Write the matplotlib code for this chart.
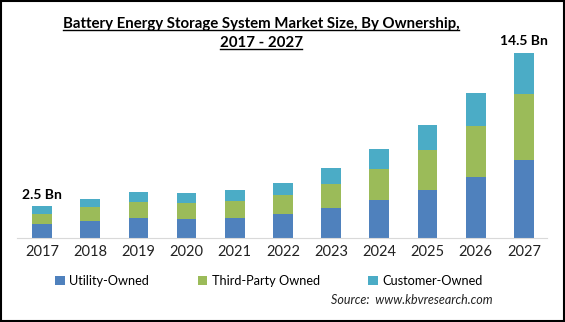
import matplotlib
matplotlib.use("Agg")
import matplotlib.pyplot as plt
from matplotlib.lines import Line2D
from matplotlib.patches import Rectangle
import numpy as np

plt.rcParams['font.family'] = ['Lato', 'DejaVu Sans']

years = ["2017", "2018", "2019", "2020", "2021", "2022",
         "2023", "2024", "2025", "2026", "2027"]
utility_owned = [1.10, 1.36, 1.59, 1.51, 1.59, 1.90, 2.38, 3.00, 3.79, 4.80, 6.12]
third_party_owned = [0.83, 1.10, 1.28, 1.25, 1.33, 1.49, 1.88, 2.40, 3.13, 4.00, 5.16]
customer_owned = [0.57, 0.63, 0.76, 0.78, 0.86, 0.94, 1.28, 1.59, 1.96, 2.61, 3.22]
series_names = ["Utility-Owned", "Third-Party Owned", "Customer-Owned"]
colors = ["#4F81BD", "#9BBB59", "#4BACC6"]

fig = plt.figure(figsize=(5.65, 3.22), dpi=100)
ax = fig.add_axes([17 / 565, 1 - 238.3 / 322, (547 - 17) / 565, (238.3 - 34) / 322])

x = np.arange(len(years))
bottom = np.zeros(len(years))
handles = []
for vals, name, c in zip([utility_owned, third_party_owned, customer_owned], series_names, colors):
    b = ax.bar(x, vals, width=0.41, bottom=bottom, color=c, label=name, zorder=2)
    handles.append(b)
    bottom = bottom + np.array(vals)

ax.set_xlim(-0.52, 10.48)
ax.set_ylim(0, 16)
for s in ["top", "right", "left"]:
    ax.spines[s].set_visible(False)
ax.spines["bottom"].set_color("#d9d9d9")
ax.set_yticks([])
ax.set_xticks(x)
ax.set_xticklabels(years, fontsize=10.5, color="#222222")
ax.tick_params(axis="x", length=0, pad=5)

# total labels on first and last bar
for i in [0, len(years) - 1]:
    ax.text(x[i], bottom[i] + 0.45, f"{bottom[i]:.1f} Bn", ha="center", va="bottom",
            fontsize=10, fontweight="bold", clip_on=False)

# title with underline
title_lines = ["Battery Energy Storage System Market Size, By Ownership,", "2017 - 2027"]
ys = [1 - 24 / 322, 1 - 43 / 322]
fig.canvas.draw()
renderer = fig.canvas.get_renderer()
for line, yy in zip(title_lines, ys):
    t = fig.text(261 / 565, yy, line, ha="center", va="center", fontsize=10.8, fontweight="bold")
    bb = t.get_window_extent(renderer=renderer).transformed(fig.transFigure.inverted())
    fig.add_artist(Line2D([bb.x0, bb.x1], [bb.y0 + 0.002, bb.y0 + 0.002],
                          transform=fig.transFigure, color="black", lw=1))

fig.legend(handles, series_names, loc="center", bbox_to_anchor=(269 / 565, 1 - 281 / 322),
           ncol=3, frameon=False, fontsize=9.2, handlelength=0.75, handleheight=0.75,
           columnspacing=3.8, handletextpad=0.35)

fig.text(493 / 565, 1 - 300 / 322, "Source:  www.kbvresearch.com", ha="right", va="center",
         fontsize=9, style="italic", color="#222222")

# frame around the whole figure
fig.add_artist(Rectangle((0.001, 0.002), 0.997, 0.995, transform=fig.transFigure,
                         fill=False, edgecolor="black", lw=1.5))

fig.savefig("out.png", dpi=100)
